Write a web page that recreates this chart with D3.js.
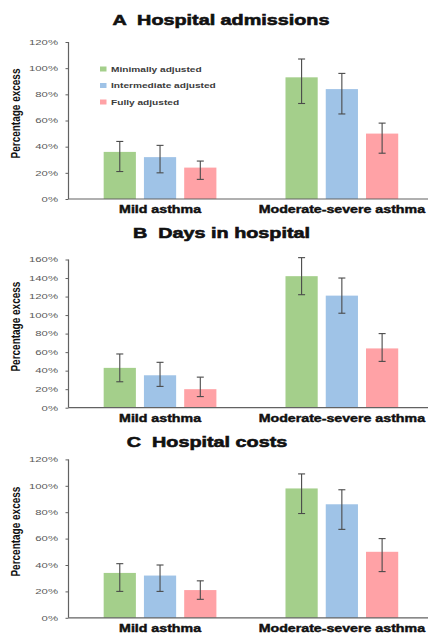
<!DOCTYPE html>
<html>
<head>
<meta charset="utf-8">
<script src="https://cdn.jsdelivr.net/npm/d3@7"></script>
<style>
  html, body { margin: 0; padding: 0; background: #fff; }
  svg { display: block; }
  text { font-family: "Liberation Sans", Arial, sans-serif; white-space: pre; }
</style>
</head>
<body>
<svg id="chart" width="428" height="633"></svg>
<script>
// Excess hospital use in asthma, by severity and level of adjustment
const categories = ["Mild asthma", "Moderate-severe asthma"];
const series = ["Minimally adjusted", "Intermediate adjusted", "Fully adjusted"];
const seriesColors = ["#a4cf8b", "#9fc3e7", "#ffa2a6"];

// A  Hospital admissions (% excess), [mild, moderate-severe] per series
const admissionsValue = [[36, 93], [32, 84], [24, 50]];
const admissionsLow   = [[21, 73], [20, 65], [15, 35]];
const admissionsHigh  = [[44, 107], [41, 96], [29, 58]];
const admissionsTicks = [0, 20, 40, 60, 80, 100, 120];

// B  Days in hospital
const daysValue = [[43, 142], [35, 121], [20, 64]];
const daysLow   = [[28, 122], [23, 102], [12, 50]];
const daysHigh  = [[58, 162], [49, 140], [33, 80]];
const daysTicks = [0, 20, 40, 60, 80, 100, 120, 140, 160];

// C  Hospital costs
const costsValue = [[34, 98], [32, 86], [21, 50]];
const costsLow   = [[20, 79], [20, 67], [14, 35]];
const costsHigh  = [[41, 109], [40, 97], [28, 60]];
const costsTicks = [0, 20, 40, 60, 80, 100, 120];

const panels = [
  { title: "A  Hospital admissions", value: admissionsValue, low: admissionsLow, high: admissionsHigh,
    ticks: admissionsTicks, top: 42, bottom: 199, titleX: 221, titleY: 25, legend: true },
  { title: "B  Days in hospital", value: daysValue, low: daysLow, high: daysHigh,
    ticks: daysTicks, top: 259.5, bottom: 407.7, titleX: 221.5, titleY: 238.3, legend: false },
  { title: "C  Hospital costs", value: costsValue, low: costsLow, high: costsHigh,
    ticks: costsTicks, top: 459.4, bottom: 617.8, titleX: 207, titleY: 447.3, legend: false }
];

const svg = d3.select("#chart");
const axisX = 68.5, rightX = 428;
const axisColor = "#626262";

const x0 = d3.scaleBand().domain(categories).range([axisX - 0.5, rightX])
  .paddingInner(0.38).paddingOuter(0.18).align(0.545);
const x1 = d3.scaleBand().domain(series).range([0, x0.bandwidth()]).paddingInner(0.2);

// Text drawn with a horizontal stretch factor
function stretched(g, str, x, y, sx, opts) {
  return g.append("text")
    .attr("transform", `translate(${x},${y}) scale(${sx},1)`)
    .attr("text-anchor", opts.anchor || "start")
    .attr("font-size", opts.size)
    .attr("font-weight", opts.weight || "normal")
    .attr("fill", opts.fill || "#000")
    .attr("dy", opts.dy || 0)
    .text(str);
}

panels.forEach(p => {
  const g = svg.append("g");
  const yMax = p.ticks[p.ticks.length - 1];
  const y = d3.scaleLinear().domain([0, yMax]).range([p.bottom, p.top]);

  // Title
  stretched(g, p.title, p.titleX, p.titleY, 1.32,
    { anchor: "middle", size: 15, weight: "bold", fill: "#111" })
    .attr("stroke", "#111").attr("stroke-width", 0.6);

  // Y axis
  const yAxis = g.append("g").attr("transform", `translate(${axisX},0)`)
    .call(d3.axisLeft(y).tickValues(p.ticks).tickSize(3).tickFormat(() => ""));
  yAxis.select(".domain").attr("stroke", axisColor).attr("stroke-width", 1.2)
    .attr("d", `M0,${p.top}V${p.bottom}`);
  yAxis.selectAll(".tick line").attr("stroke", axisColor).attr("stroke-width", 1);
  p.ticks.forEach(t => {
    stretched(g, t + "%", 58, y(t), 1.42,
      { anchor: "end", size: 8, fill: "#5a5a5a", dy: "0.35em" });
  });

  // Y axis title
  g.append("text")
    .attr("transform", `translate(15,${(p.top + p.bottom) / 2 - 7}) rotate(-90) scale(1,1.3)`)
    .attr("text-anchor", "middle")
    .attr("dy", "0.35em")
    .attr("font-size", 10)
    .attr("font-weight", "bold")
    .attr("fill", "#111")
    .text("Percentage excess");

  // Bars
  series.forEach((s, si) => {
    categories.forEach((c, ci) => {
      const bx = x0(c) + x1(s);
      const v = p.value[si][ci];
      g.append("rect")
        .attr("x", bx).attr("y", y(v))
        .attr("width", x1.bandwidth()).attr("height", y(0) - y(v))
        .attr("fill", seriesColors[si]);
    });
  });

  // Error bars
  series.forEach((s, si) => {
    categories.forEach((c, ci) => {
      const cx = x0(c) + x1(s) + x1.bandwidth() / 2;
      const lo = y(p.low[si][ci]), hi = y(p.high[si][ci]);
      const eg = g.append("g").attr("stroke", "#4a4a4a").attr("stroke-width", 1.1);
      eg.append("line").attr("x1", cx).attr("x2", cx).attr("y1", lo).attr("y2", hi);
      eg.append("line").attr("x1", cx - 3.5).attr("x2", cx + 3.5).attr("y1", lo).attr("y2", lo);
      eg.append("line").attr("x1", cx - 3.5).attr("x2", cx + 3.5).attr("y1", hi).attr("y2", hi);
    });
  });

  // X axis
  const xAxis = g.append("g").attr("transform", `translate(0,${p.bottom})`)
    .call(d3.axisBottom(x0).tickSize(0).tickFormat(() => ""));
  xAxis.select(".domain").attr("stroke", axisColor).attr("stroke-width", 1.2)
    .attr("d", `M${axisX},0H${rightX}`);
  categories.forEach(c => {
    stretched(g, c, x0(c) + x0.bandwidth() / 2, p.bottom + 14, 1.42,
      { anchor: "middle", size: 10, weight: "bold", fill: "#111" })
      .attr("stroke", "#111").attr("stroke-width", 0.4);
  });

  // Legend
  if (p.legend) {
    series.forEach((s, si) => {
      const ly = 69 + si * 16.5;
      g.append("rect").attr("x", 100).attr("y", ly - 2.5).attr("width", 6.5).attr("height", 5)
        .attr("fill", seriesColors[si]);
      stretched(g, s, 111, ly, 1.27,
        { anchor: "start", size: 8, weight: "bold", fill: "#3c3c3c", dy: "0.35em" });
    });
  }
});
</script>
</body>
</html>
